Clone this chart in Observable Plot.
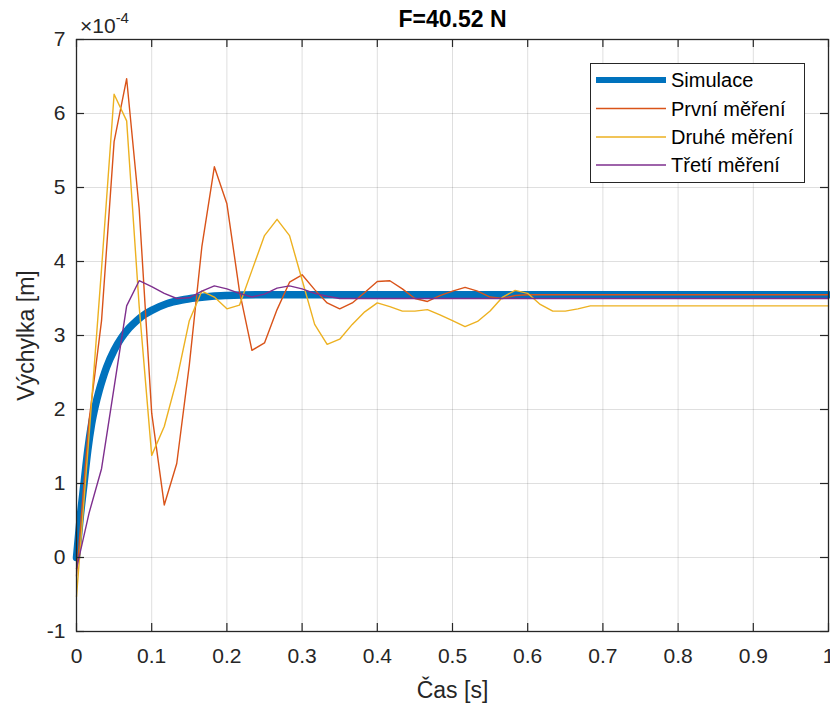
<!DOCTYPE html>
<html><head><meta charset="utf-8">
<script src="https://cdn.jsdelivr.net/npm/d3@7"></script>
<script src="https://cdn.jsdelivr.net/npm/@observablehq/plot@0.6"></script>
<style>body{margin:0;background:#fff}#chart{width:830px;height:704px}</style>
</head><body><div id="chart"></div>
<script>
// ---- data (values in units of 1e-4 m) ----
const title = "F=40.52 N";
const xLabel = "Čas [s]";
const yLabel = "Výchylka [m]";
const seriesNames = ["Simulace", "První měření", "Druhé měření", "Třetí měření"];
const seriesColors = ["#0072BD", "#D95319", "#EDB120", "#7E2F8E"];
const xTicks = [0, 0.1, 0.2, 0.3, 0.4, 0.5, 0.6, 0.7, 0.8, 0.9, 1];
const yTicks = [-1, 0, 1, 2, 3, 4, 5, 6, 7];

const tSim = [0, 0.005, 0.01, 0.015, 0.02, 0.025, 0.03, 0.035, 0.04, 0.05, 0.06, 0.07, 0.08, 0.09, 0.1, 0.12, 0.14, 0.16, 0.18, 0.2, 0.25, 0.3, 1.0];
const simulace = [0, 0.55, 1.0, 1.45, 1.8, 2.05, 2.25, 2.42, 2.57, 2.8, 2.97, 3.1, 3.2, 3.28, 3.34, 3.43, 3.48, 3.51, 3.53, 3.54, 3.55, 3.55, 3.55];

const tMeas = [0, 0.0167, 0.0333, 0.05, 0.0667, 0.0833, 0.1, 0.1167, 0.1333, 0.15,
  0.1667, 0.1833, 0.2, 0.2167, 0.2333, 0.25, 0.2667, 0.2833, 0.3, 0.3167,
  0.3333, 0.35, 0.3667, 0.3833, 0.4, 0.4167, 0.4333, 0.45, 0.4667, 0.4833,
  0.5, 0.5167, 0.5333, 0.55, 0.5667, 0.5833, 0.6, 0.6167, 0.6333, 0.65,
  0.6667, 0.6833, 1.0];
const prvni = [-0.25, 1.85, 3.2, 5.62, 6.47, 4.72, 1.95, 0.71, 1.27, 2.6,
  4.2, 5.28, 4.78, 3.6, 2.8, 2.9, 3.35, 3.72, 3.82, 3.62,
  3.44, 3.36, 3.44, 3.58, 3.73, 3.74, 3.63, 3.5, 3.46, 3.54,
  3.6, 3.65, 3.6, 3.52, 3.5, 3.54, 3.55, 3.55, 3.55, 3.55,
  3.55, 3.55, 3.55];
const druhe = [-0.53, 1.65, 3.9, 6.26, 5.9, 3.4, 1.38, 1.77, 2.4, 3.2,
  3.6, 3.52, 3.36, 3.41, 3.88, 4.35, 4.57, 4.35, 3.75, 3.15,
  2.88, 2.95, 3.15, 3.32, 3.44, 3.39, 3.33, 3.33, 3.35, 3.28,
  3.2, 3.12, 3.19, 3.33, 3.52, 3.61, 3.57, 3.42, 3.33, 3.33,
  3.36, 3.4, 3.4];
const treti = [-0.15, 0.6, 1.2, 2.3, 3.4, 3.74, 3.66, 3.57, 3.5, 3.51,
  3.6, 3.67, 3.63, 3.57, 3.52, 3.56, 3.64, 3.67, 3.63, 3.57,
  3.53, 3.5, 3.5, 3.5, 3.5, 3.5, 3.5, 3.5, 3.5, 3.5,
  3.5, 3.5, 3.5, 3.5, 3.5, 3.5, 3.5, 3.5, 3.5, 3.5,
  3.5, 3.5, 3.5];

// ---- build tables ----
const simRows = tSim.map((t, i) => ({t, v: simulace[i]}));
const measRows = (vals) => tMeas.map((t, i) => ({t, v: vals[i]}));

const W = 830, H = 704, mL = 76, mR = 2, mT = 39, mB = 73;
const fw = W - mL - mR, fh = H - mT - mB;
const ink = "#262626";
const font = "'Liberation Sans', Arial, Helvetica, sans-serif";

const plot = Plot.plot({
  width: W, height: H,
  marginLeft: mL, marginRight: mR, marginTop: mT, marginBottom: mB,
  style: {fontFamily: font, fontSize: "21px", color: ink, background: "#fff", overflow: "visible"},
  x: {domain: [0, 1]},
  y: {domain: [-1, 7]},
  marks: [
    Plot.gridX(xTicks, {stroke: ink, strokeOpacity: 0.15, strokeWidth: 1}),
    Plot.gridY(yTicks, {stroke: ink, strokeOpacity: 0.15, strokeWidth: 1}),
    Plot.line(simRows, {x: "t", y: "v", stroke: seriesColors[0], strokeWidth: 7.5, curve: "monotone-x"}),
    Plot.line(measRows(prvni), {x: "t", y: "v", stroke: seriesColors[1], strokeWidth: 1.4}),
    Plot.line(measRows(druhe), {x: "t", y: "v", stroke: seriesColors[2], strokeWidth: 1.4}),
    Plot.line(measRows(treti), {x: "t", y: "v", stroke: seriesColors[3], strokeWidth: 1.4}),
    Plot.frame({stroke: ink, strokeWidth: 1.3}),
    Plot.ruleX(xTicks, {x: d => d, insetTop: fh - 8, stroke: ink, strokeWidth: 1.2}),
    Plot.ruleX(xTicks, {x: d => d, insetBottom: fh - 8, stroke: ink, strokeWidth: 1.2}),
    Plot.ruleY(yTicks, {y: d => d, insetRight: fw - 8, stroke: ink, strokeWidth: 1.2}),
    Plot.ruleY(yTicks, {y: d => d, insetLeft: fw - 8, stroke: ink, strokeWidth: 1.2}),
    Plot.axisX(xTicks, {tickSize: 0, tickPadding: 17, tickFormat: d => String(d), label: null, fontSize: 21}),
    Plot.axisY(yTicks, {tickSize: 0, tickPadding: 11, tickFormat: d => String(d), label: null, fontSize: 21}),
    Plot.text([title], {frameAnchor: "top", dy: -20, lineAnchor: "middle", fontWeight: "bold", fontSize: 23, fill: "#000"}),
    Plot.text([xLabel], {frameAnchor: "bottom", dy: 59, lineAnchor: "middle", fontSize: 23, fill: ink}),
    Plot.text([yLabel], {frameAnchor: "left", dx: -50, rotate: -90, textAnchor: "middle", lineAnchor: "middle", fontSize: 23, fill: ink})
  ]
});

document.getElementById("chart").appendChild(plot);

// exponent label and legend
const svg = d3.select(plot);
const ex = svg.append("text").attr("x", mL + 4).attr("y", 33).attr("fill", ink)
  .attr("text-anchor", "start")
  .attr("font-family", font).attr("font-size", 21);
ex.append("tspan").text("×10");
ex.append("tspan").attr("dy", -10).attr("font-size", 15).text("-4");

const lg = svg.append("g").attr("text-anchor", "start");
lg.append("rect").attr("x", 590.5).attr("y", 63.5).attr("width", 214).attr("height", 119)
  .attr("fill", "#fff").attr("stroke", ink).attr("stroke-width", 1);
const rowY = [80, 108.5, 137, 165];
seriesNames.forEach((name, i) => {
  lg.append("line").attr("x1", 596).attr("x2", 666).attr("y1", rowY[i]).attr("y2", rowY[i])
    .attr("stroke", seriesColors[i]).attr("stroke-width", i === 0 ? 6 : 1.4);
  lg.append("text").attr("x", 671).attr("y", rowY[i]).attr("dy", "0.36em").attr("fill", "#000")
    .attr("text-anchor", "start")
    .attr("font-family", font).attr("font-size", 20).text(name);
});
</script>
</body></html>
